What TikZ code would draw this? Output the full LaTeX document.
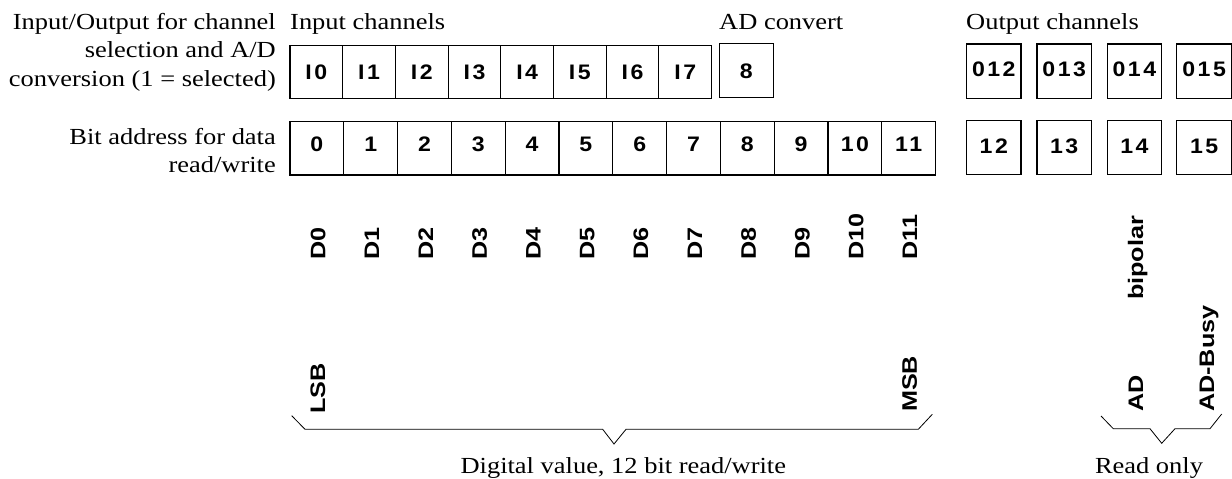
\documentclass[tikz,border=0pt]{standalone}
\usepackage{fontspec}
\setmainfont{Liberation Serif}[FakeStretch=1.15]
\newfontfamily\hv{Liberation Sans}[FakeStretch=1.2]
\newfontfamily\hvd{Liberation Sans}[FakeStretch=1.1,LetterSpace=12]
\begin{document}
\begin{tikzpicture}[x=1pt,y=-1pt,
  serif/.style={font=\fontsize{23}{28.5}\selectfont, inner sep=0pt},
  cell/.style={draw, line width=1.1pt, inner sep=0pt, outer sep=0pt,
    minimum height=53.3pt, text height=15pt,
    font=\hvd\bfseries\fontsize{21}{25}\selectfont},
  incell/.style={cell, minimum width=52.7pt, text depth=0pt},
  bitcell/.style={cell, minimum width=53.8pt, text depth=8.2pt},
  outcell/.style={cell, minimum width=54.4pt, minimum height=54.5pt, text depth=3.8pt},
  vlab/.style={rotate=90, anchor=base west, inner sep=0pt,
    font=\hv\bfseries\fontsize{21}{25}\selectfont},
  brace/.style={draw, line width=0.8pt, line join=miter}]
\useasboundingbox (0,0) rectangle (1232,479);
\fill[white] (0,0) rectangle (1232,479);

% left labels
\node[serif, align=right, anchor=base east] (lab1) at (276,86)
  {Input/Output for channel\\selection and A/D\\conversion (1 = selected)};
\node[serif, align=right, anchor=base east] (lab2) at (276,172.5)
  {Bit address for data\\read/write};

% headings
\node[serif, anchor=base west] (hin) at (290,29) {Input channels};
\node[serif, anchor=base west] (had) at (719,29) {AD convert};
\node[serif, anchor=base west] (hout) at (966,29) {Output channels};

% input channel cells
\foreach \i in {0,...,7}{
  \node[incell] (in\i) at ({290+26.35+52.7*\i},71.7) {I\i};
}
\node[cell, minimum width=54pt, text depth=0pt] (adc) at (746.3,70.5) {8};

% bit address cells
\foreach \i in {0,...,11}{
  \node[bitcell] (b\i) at ({290+26.9+53.8*\i},148.3) {\i};
  \node[vlab] (d\i) at ({290+26.9+53.8*\i+8.5},260) {D\i};
}

% output channels
\foreach \i/\x in {12/993.8,13/1064.2,14/1134.4,15/1204.1}{
  \node[outcell] (o\i) at (\x,71.2) {0\i};
  \node[outcell, text depth=4pt] (ob\i) at (\x,147.5) {\i};
}

% rotated labels
\node[vlab] (lsb) at (325.2,414) {LSB};
\node[vlab] (msb) at (916.8,412) {MSB};
\node[vlab] (ad) at (1143,412) {AD};
\node[vlab] (bip) at (1143,300) {bipolar};
\node[vlab] (busy) at (1214,412) {AD-Busy};

% braces
\draw[brace] (291.7,415.7) -- (305,429.3) -- (602.7,429.3) -- (614,444)
  -- (626,429.3) -- (918.3,429.3) -- (932.3,414.3);
\draw[brace] (1101,416) -- (1113.3,428.7) -- (1150,428.7) -- (1161.7,443.3)
  -- (1175,428.7) -- (1210,428.7) -- (1221.7,414);

\node[serif, anchor=base] (dig) at (623.3,473) {Digital value, 12 bit read/write};
\node[serif, anchor=base] (ro) at (1149,473) {Read only};
\end{tikzpicture}
\end{document}
